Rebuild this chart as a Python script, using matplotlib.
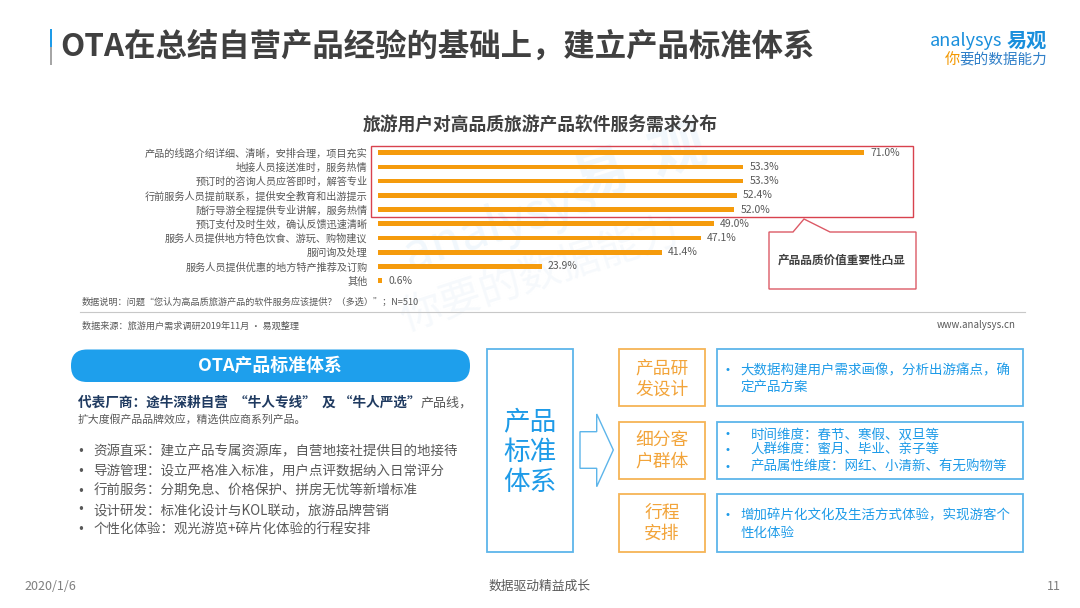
import matplotlib
matplotlib.use('Agg')
import matplotlib.pyplot as plt
from matplotlib.patches import Rectangle, FancyBboxPatch, Polygon

plt.rcParams['font.family'] = ['Noto Sans CJK SC', 'DejaVu Sans']

# ---------------- data ----------------
categories = [
    '产品的线路介绍详细、清晰，安排合理，项目充实',
    '地接人员接送准时，服务热情',
    '预订时的咨询人员应答即时，解答专业',
    '行前服务人员提前联系，提供安全教育和出游提示',
    '随行导游全程提供专业讲解，服务热情',
    '预订支付及时生效，确认反馈迅速清晰',
    '服务人员提供地方特色饮食、游玩、购物建议',
    '服问询及处理',
    '服务人员提供优惠的地方特产推荐及订购',
    '其他',
]
values = [71.0, 53.3, 53.3, 52.4, 52.0, 49.0, 47.1, 41.4, 23.9, 0.6]
value_labels = [f'{v:.1f}%' for v in values]

title = 'OTA在总结自营产品经验的基础上，建立产品标准体系'
chart_title = '旅游用户对高品质旅游产品软件服务需求分布'
callout = '产品品质价值重要性凸显'
note = '数据说明：问题“您认为高品质旅游产品的软件服务应该提供？（多选）”；N=510'
source = '数据来源：旅游用户需求调研2019年11月 · 易观整理'

pill_title = 'OTA产品标准体系'
vendor_bold = '代表厂商：途牛深耕自营  “牛人专线”  及 “牛人严选”'
vendor_rest = '产品线，'
vendor_line2 = '扩大度假产品品牌效应，精选供应商系列产品。'
bullets = [
    '资源直采：建立产品专属资源库，自营地接社提供目的地接待',
    '导游管理：设立严格准入标准，用户点评数据纳入日常评分',
    '行前服务：分期免息、价格保护、拼房无忧等新增标准',
    '设计研发：标准化设计与KOL联动，旅游品牌营销',
    '个性化体验：观光游览+碎片化体验的行程安排',
]
system_title = ['产品', '标准', '体系']
dims = [['产品研', '发设计'], ['细分客', '户群体'], ['行程', '安排']]
dim_texts = [
    ['大数据构建用户需求画像，分析出游痛点，确', '定产品方案'],
    ['时间维度：春节、寒假、双旦等', '人群维度：蜜月、毕业、亲子等', '产品属性维度：网红、小清新、有无购物等'],
    ['增加碎片化文化及生活方式体验，实现游客个', '性化体验'],
]
footer_date = '2020/1/6'
footer_mid = '数据驱动精益成长'
footer_page = '11'

# ---------------- colours ----------------
BAR = '#f59b0c'
GRAY = '#595959'
DARK = '#404040'
BLUE = '#1e9be8'
LBLUE = '#5db5ea'
ORANGE_EDGE = '#f6b456'
ORANGE_TXT = '#f2a43a'
RED = '#d8424e'

W, H = 1080, 608
fig = plt.figure(figsize=(10.8, 6.08), dpi=100)
fig.patch.set_facecolor('white')
bg = fig.add_axes([0, 0, 1, 1])
bg.set_xlim(0, W)
bg.set_ylim(H, 0)
bg.axis('off')

# ---------------- watermark ----------------
bg.text(640, 165, '易  观', fontsize=40, weight='bold', color='#f1f7fc',
        rotation=18, ha='center', va='center', zorder=0)
bg.text(500, 225, 'analysys', fontsize=36, color='#f1f7fc',
        rotation=18, ha='center', va='center', zorder=0)
bg.text(540, 275, '你要的数据能力', fontsize=30, color='#f6f9fc',
        rotation=18, ha='center', va='center', zorder=0)

# ---------------- header ----------------
bg.add_patch(Rectangle((49.5, 29), 2.2, 18, color=BLUE, lw=0))
bg.add_patch(Rectangle((49.5, 47), 2.2, 18, color='#a6a6a6', lw=0))
bg.text(60, 47, title, fontsize=22.6, weight='bold', color=DARK, va='center', ha='left')

bg.text(1047, 40, '易观', fontsize=14.5, weight='bold', color='#1a8fdc', va='center', ha='right')
bg.text(1002, 41, 'analysys', fontsize=13, color='#1a8fdc', va='center', ha='right')
bg.text(1047, 59, '要的数据能力', fontsize=10.5, color='#2f7fc8', va='center', ha='right')
bg.text(960, 59, '你', fontsize=11, color='#f39800', va='center', ha='right')

# ---------------- chart ----------------
bg.text(540, 126, chart_title, fontsize=12.8, weight='bold', color=DARK, ha='center', va='center')

x0 = 378.0
px_per_unit = 6.85
row0, step = 152.7, 14.22
top = row0 - step / 2
bottom = row0 + step * 9.5
ax = fig.add_axes([x0 / W, (H - bottom) / H, 100 * px_per_unit / W, (bottom - top) / H])
ypos = list(range(len(categories)))
bars = ax.barh(ypos, values, height=0.33, color=BAR, zorder=3)
ax.set_xlim(0, 100)
ax.set_ylim(len(categories) - 0.5, -0.5)
ax.set_yticks(ypos, categories, fontsize=7.3, color=GRAY)
ax.set_xticks([])
ax.tick_params(axis='y', length=0, pad=7.5)
for s in ax.spines.values():
    s.set_visible(False)
ax.patch.set_alpha(0)
ax.bar_label(bars, labels=value_labels, padding=4.5, fontsize=7.5, color=GRAY)

# red highlight box and callout
bg.add_patch(Rectangle((371, 146), 913 - 371, 217 - 146, fill=False, ec=RED, lw=1.0, zorder=4))
callout_pts = [(769, 232), (793, 232), (804, 219), (830, 232), (916, 232), (916, 289), (769, 289)]
bg.add_patch(Polygon(callout_pts, closed=True, fc='white', ec='#dc5a66', lw=1.0, zorder=4))
bg.text(842, 260, callout, fontsize=8.4, weight='bold', color=DARK, ha='center', va='center', zorder=5)

bg.text(82, 302.5, note, fontsize=6.6, color=GRAY, va='center', ha='left')
bg.plot([80, 1025], [312, 312], color='#c8c8c8', lw=0.8)
bg.text(82, 326.5, source, fontsize=6.6, color=GRAY, va='center', ha='left')
bg.text(1016, 325, 'www.analysys.cn', fontsize=7, color=GRAY, va='center', ha='right')

# ---------------- bottom-left block ----------------
bg.add_patch(FancyBboxPatch((71, 349.5), 399, 32.5,
                            boxstyle='round,pad=0,rounding_size=16', fc='#1e9fec', ec='none'))
bg.text(270, 366, pill_title, fontsize=12.9, weight='bold', color='white', ha='center', va='center')

t1 = bg.text(77.5, 403, vendor_bold, fontsize=9.8, weight='bold', color='#1f3a60', va='center', ha='left')
bg.annotate(vendor_rest, xy=(1, 0.5), xycoords=t1, fontsize=9.4, color=GRAY, va='center', ha='left')
bg.text(77.5, 420, vendor_line2, fontsize=7.8, color=GRAY, va='center', ha='left')

bullet_y = [451.7, 471, 491, 510, 529.3]
for y, s in zip(bullet_y, bullets):
    bg.text(80.7, y, '•', fontsize=8.5, color=GRAY, ha='center', va='center', family='DejaVu Sans')
    bg.text(93.3, y, s, fontsize=9.7, color=GRAY, ha='left', va='center')

# ---------------- bottom-right block ----------------
bg.add_patch(Rectangle((487.3, 349.3), 86, 202.4, fill=False, ec=LBLUE, lw=1.3))
for y, s in zip([421.5, 452, 482.5], system_title):
    bg.text(530, y, s, fontsize=19.2, color=BLUE, ha='center', va='center')

arrow_pts = [(580, 431.7), (596.7, 431.7), (596.7, 414), (613.3, 450),
             (596.7, 486.7), (596.7, 468.3), (580, 468.3)]
bg.add_patch(Polygon(arrow_pts, closed=True, fc='white', ec=LBLUE, lw=1.0))

box_y = [(349.3, 406), (421.7, 479.3), (494.3, 551.7)]
dim_line_y = [[368.3, 390], [439.3, 461.7], [513.3, 533.3]]
text_line_y = [[370, 387.3], [434.3, 450, 466.7], [515, 532.7]]
text_x = [740.7, 750.7, 740.7]
for i, (y0, y1) in enumerate(box_y):
    bg.add_patch(Rectangle((619.3, y0), 705 - 619.3, y1 - y0, fill=False, ec=ORANGE_EDGE, lw=1.3))
    for y, s in zip(dim_line_y[i], dims[i]):
        bg.text(662, y, s, fontsize=12.8, color=ORANGE_TXT, ha='center', va='center')
    bg.add_patch(Rectangle((717.3, y0), 1022.7 - 717.3, y1 - y0, fill=False, ec=LBLUE, lw=1.3))
    lines = dim_texts[i]
    for j, (y, s) in enumerate(zip(text_line_y[i], lines)):
        if i == 1 or j == 0:
            bg.text(727.3, y, '•', fontsize=7.5, color=BLUE, ha='center', va='center', family='DejaVu Sans')
        bg.text(text_x[i], y, s, fontsize=9.7, color=BLUE, ha='left', va='center')

# ---------------- footer ----------------
bg.text(24, 586, footer_date, fontsize=9, color='#7f7f7f', ha='left', va='center')
bg.text(540, 586, footer_mid, fontsize=9.2, color=GRAY, ha='center', va='center')
bg.text(1047, 586, footer_page, fontsize=9, color='#7f7f7f', ha='left', va='center')

fig.savefig('out.png', dpi=100, facecolor='white')
